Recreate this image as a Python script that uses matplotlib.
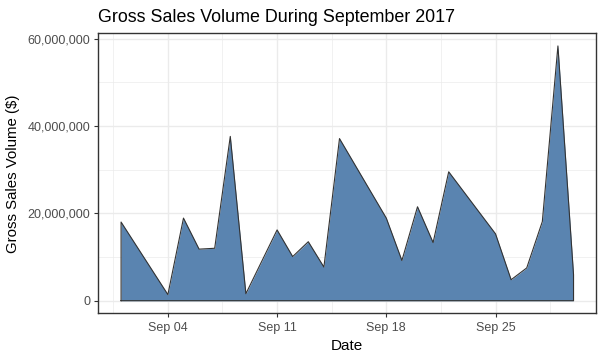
import numpy as np
import pandas as pd
import matplotlib
matplotlib.use("Agg")
import matplotlib.pyplot as plt
import matplotlib.dates as mdates
from matplotlib.ticker import FuncFormatter, MultipleLocator

plt.rcParams['font.family'] = ['Liberation Sans', 'DejaVu Sans']

# daily gross sales volume, Sept 2017
dates = ["2017-09-01", "2017-09-04", "2017-09-05", "2017-09-06", "2017-09-07",
         "2017-09-08", "2017-09-09", "2017-09-11", "2017-09-12", "2017-09-13",
         "2017-09-14", "2017-09-15", "2017-09-18", "2017-09-19", "2017-09-20",
         "2017-09-21", "2017-09-22", "2017-09-25", "2017-09-26", "2017-09-27",
         "2017-09-28", "2017-09-29", "2017-09-30"]
volume = [18.0, 1.4, 18.9, 11.8, 12.0,
          37.6, 1.6, 16.2, 10.1, 13.5,
          7.7, 37.1, 18.9, 9.2, 21.5,
          13.3, 29.5, 15.3, 4.8, 7.5,
          18.1, 58.3, 6.0]
volume = np.array(volume) * 1e6
x = pd.to_datetime(dates)

fig = plt.figure(figsize=(6.04, 3.57), dpi=100)
ax = fig.add_axes([0.163, 0.122, 0.824, 0.785])

xn = mdates.date2num(x)
ax.fill_between(xn, 0, volume, color="#5A84B0", linewidth=0, zorder=2)
px = np.concatenate([[xn[0]], xn, [xn[-1], xn[0]]])
py = np.concatenate([[0], volume, [0, 0]])
ax.plot(px, py, color="#333333", linewidth=0.8, zorder=3)

# limits with ggplot-style 5% expansion
span = xn[-1] - xn[0]
ax.set_xlim(xn[0] - 0.05 * span, xn[-1] + 0.05 * span)
ymax = volume.max()
ax.set_ylim(-0.05 * ymax, ymax * 1.05)

ticks = mdates.date2num(pd.to_datetime(["2017-09-04", "2017-09-11", "2017-09-18", "2017-09-25"]))
ax.set_xticks(ticks)
ax.set_xticklabels(["Sep 04", "Sep 11", "Sep 18", "Sep 25"])
ax.set_xticks(np.concatenate([[ticks[0] - 3.5], ticks + 3.5]), minor=True)
ax.yaxis.set_major_locator(MultipleLocator(20e6))
ax.yaxis.set_minor_locator(MultipleLocator(10e6))
ax.yaxis.set_major_formatter(FuncFormatter(lambda v, p: f"{int(v):,}"))

ax.grid(which="major", color="#EBEBEB", linewidth=1.0, zorder=0)
ax.grid(which="minor", color="#EBEBEB", linewidth=0.5, zorder=0)
ax.set_axisbelow(True)
ax.tick_params(which="major", length=3, color="#333333", labelsize=9, labelcolor="#4D4D4D", pad=3)
ax.tick_params(which="minor", length=0)
for s in ax.spines.values():
    s.set_color("#333333")
    s.set_linewidth(1.0)

ax.set_xlabel("Date", fontsize=11, labelpad=4)
ax.set_ylabel("Gross Sales Volume ($)", fontsize=10.8, labelpad=5)
ax.set_title("Gross Sales Volume During September 2017", fontsize=12.9, loc="left", pad=8)

fig.savefig("out.png", dpi=100)
